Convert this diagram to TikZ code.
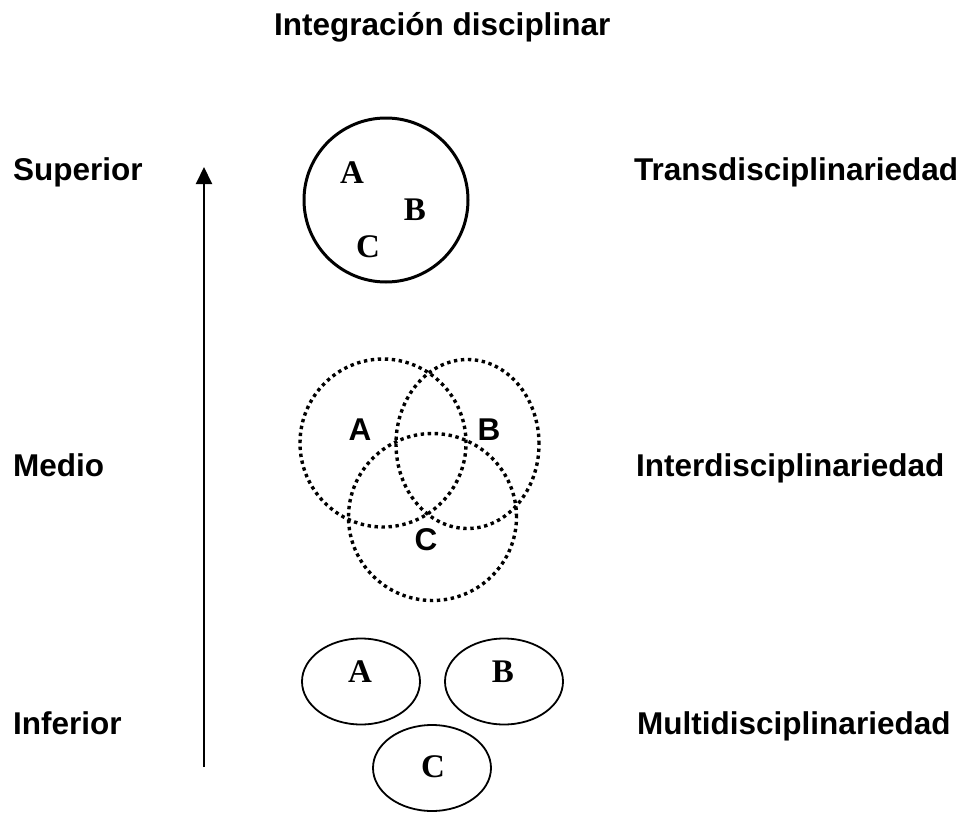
\documentclass[tikz,border=0pt]{standalone}
\usepackage{fontspec}
\setmainfont{Liberation Sans}
\newfontfamily\serifb{Liberation Serif}
\usetikzlibrary{shapes.geometric,arrows.meta}
\begin{document}
\begin{tikzpicture}[x=1pt,y=-1pt,
  lbl/.style={font=\fontsize{31.5}{31.5}\selectfont\bfseries, inner sep=0pt, anchor=base west},
  serifletter/.style={font=\serifb\fontsize{33}{33}\selectfont\bfseries, inner sep=0pt},
  sansletter/.style={font=\fontsize{31.5}{31.5}\selectfont\bfseries, inner sep=0pt},
  solidring/.style={draw, ellipse, line width=3pt, inner sep=0pt},
  dotring/.style={draw, ellipse, line width=3.4pt, dash pattern=on 3.4pt off 3.6pt, inner sep=0pt},
  thinring/.style={draw, ellipse, line width=1.8pt, inner sep=0pt}]
\useasboundingbox (0,0) rectangle (970,819);
% title
\node[lbl] (title) at (274,35) {Integración disciplinar};
% left labels
\node[lbl] (sup) at (13,180) {Superior};
\node[lbl] (med) at (13,476) {Medio};
\node[lbl] (inf) at (13,734) {Inferior};
% right labels
\node[lbl] (trans) at (634,180) {Transdisciplinariedad};
\node[lbl] (inter) at (636,476) {Interdisciplinariedad};
\node[lbl] (multi) at (637,734) {Multidisciplinariedad};
% arrow
\coordinate (abot) at (204,767);
\coordinate (atop) at (204,167);
\draw[line width=2pt, -{Triangle[width=16pt,length=17pt]}] (abot) -- (atop);
% top circle
\node[solidring, minimum width=164pt, minimum height=164pt] (tc) at (386,200) {};
\node[serifletter] (tA) at (352,173) {A};
\node[serifletter] (tB) at (415,210) {B};
\node[serifletter] (tC) at (368,247) {C};
% dotted circles
\node[dotring, minimum width=166pt, minimum height=168pt] (mA) at (383,443) {};
\node[dotring, minimum width=143pt, minimum height=169pt] (mB) at (467.5,444) {};
\node[dotring, minimum width=168pt, minimum height=167pt] (mC) at (432.5,517) {};
\node[sansletter] (lA) at (360,430) {A};
\node[sansletter] (lB) at (489,430) {B};
\node[sansletter] (lC) at (426,540) {C};
% bottom ellipses
\node[thinring, minimum width=118pt, minimum height=86pt] (bA) at (361,681.5) {};
\node[thinring, minimum width=118pt, minimum height=86pt] (bB) at (504,681.5) {};
\node[thinring, minimum width=118pt, minimum height=86pt] (bC) at (432,768) {};
\node[serifletter] (eA) at (360,672) {A};
\node[serifletter] (eB) at (503,672) {B};
\node[serifletter] (eC) at (433,767) {C};
\end{tikzpicture}
\end{document}
